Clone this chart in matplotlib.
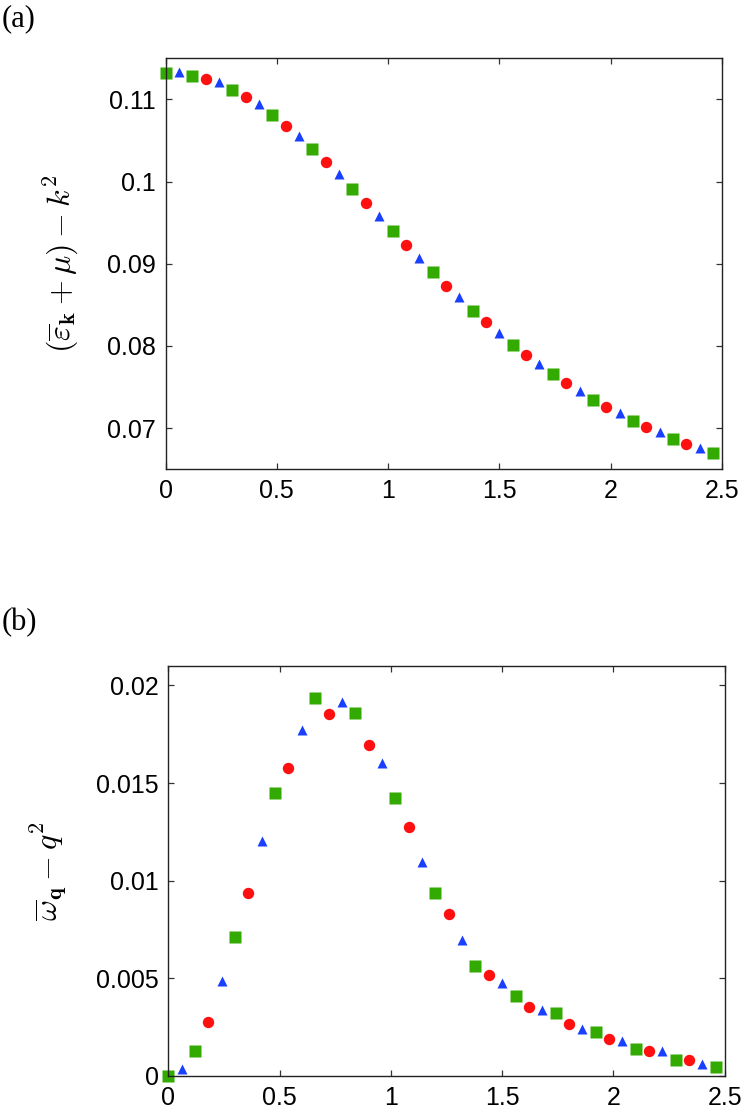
import matplotlib
matplotlib.use("Agg")
import matplotlib.pyplot as plt
import numpy as np

plt.rcParams['mathtext.fontset'] = 'cm'
plt.rcParams['font.family'] = ['Liberation Sans', 'DejaVu Sans']

# ---------------- data ----------------
# x grid step 0.06 from 0 to 2.46; markers alternate circle/triangle/square
x_all = [round(0.06 * i, 2) for i in range(42)]

# panel (a): (eps_k + mu) - k^2
ya_all = [0.11323, 0.11332, 0.11287, 0.11250, 0.11210, 0.11117, 0.11028, 0.10943,
          0.10813, 0.10679, 0.10558, 0.10392, 0.10238, 0.10092, 0.09910, 0.09744,
          0.09586, 0.09400, 0.09230, 0.09075, 0.08900, 0.08735, 0.08594, 0.08431,
          0.08286, 0.08152, 0.08011, 0.07885, 0.07784, 0.07654, 0.07544, 0.07452,
          0.07346, 0.07253, 0.07180, 0.07091, 0.07018, 0.06957, 0.06872, 0.06812,
          0.06759, 0.06694]

# panel (b): omega_q - q^2
yb_all = [0.00000, 0.00034, 0.00128, 0.00275, 0.00487, 0.00711, 0.00938, 0.01204,
          0.01448, 0.01578, 0.01773, 0.01936, 0.01856, 0.01914, 0.01860, 0.01696,
          0.01603, 0.01424, 0.01276, 0.01098, 0.00936, 0.00832, 0.00697, 0.00564,
          0.00519, 0.00475, 0.00412, 0.00355, 0.00336, 0.00324, 0.00266, 0.00239,
          0.00224, 0.00191, 0.00181, 0.00140, 0.00128, 0.00128, 0.00082, 0.00084,
          0.00060, 0.00046]

# series membership (index sets)
idx_circle = [i for i in range(42) if i % 3 == 0 and i > 0]
idx_triangle = [i for i in range(42) if i % 3 == 1]
idx_square = [0] + [i for i in range(42) if i % 3 == 2]

xticks = [0, 0.5, 1, 1.5, 2, 2.5]
xticklabels = ['0', '0.5', '1', '1.5', '2', '2.5']
ya_ticks = [0.07, 0.08, 0.09, 0.1, 0.11]
ya_labels = ['0.07', '0.08', '0.09', '0.1', '0.11']
yb_ticks = [0, 0.005, 0.01, 0.015, 0.02]
yb_labels = ['0', '0.005', '0.01', '0.015', '0.02']

red = '#ff1010'
blue = '#1a40ff'
green = '#33aa00'

fig = plt.figure(figsize=(7.48, 11.2), dpi=100)
ax_a = fig.add_axes([0.2213, 0.581, 0.7439, 0.367])
ax_b = fig.add_axes([0.2250, 0.0393, 0.7439, 0.3661])


def draw(ax, yall):
    xa = np.array(x_all)
    ya = np.array(yall)
    ax.plot(xa[idx_circle], ya[idx_circle], 'o', color=red, ms=8.2, mec='none',
            clip_on=False, zorder=2)
    ax.plot(xa[idx_triangle], ya[idx_triangle], '^', color=blue, ms=7.5, mec='none',
            clip_on=False, zorder=2)
    ax.plot(xa[idx_square], ya[idx_square], 's', color=green, ms=8.0, mec='none',
            clip_on=False, zorder=2)
    ax.set_xlim(0, 2.5)
    ax.set_xticks(xticks)
    ax.set_xticklabels(xticklabels)
    ax.tick_params(direction='in', top=True, right=True, length=4, width=0.9,
                   labelsize=18, pad=7, color='#333333')
    for s in ax.spines.values():
        s.set_linewidth(1.0)
        s.set_color('#222222')
        s.set_zorder(3)


draw(ax_a, ya_all)
ax_a.set_ylim(0.065, 0.115)
ax_a.set_yticks(ya_ticks)
ax_a.set_yticklabels(ya_labels)
ax_a.set_ylabel(r'$(\overline{\varepsilon}_{\mathbf{k}} + \mu) - k^2$', fontsize=23,
                labelpad=19)

draw(ax_b, yb_all)
ax_b.set_ylim(0, 0.021)
ax_b.set_yticks(yb_ticks)
ax_b.set_yticklabels(yb_labels)
ax_b.set_ylabel(r'$\overline{\omega}_{\mathbf{q}} - q^2$', fontsize=23, labelpad=19)

fig.text(0.002, 1 - 19 / 1120, '(a)', family='Liberation Serif', fontsize=22,
         va='center', ha='left')
fig.text(0.002, 1 - 623 / 1120, '(b)', family='Liberation Serif', fontsize=22,
         va='center', ha='left')

fig.savefig('out.png', dpi=100)
